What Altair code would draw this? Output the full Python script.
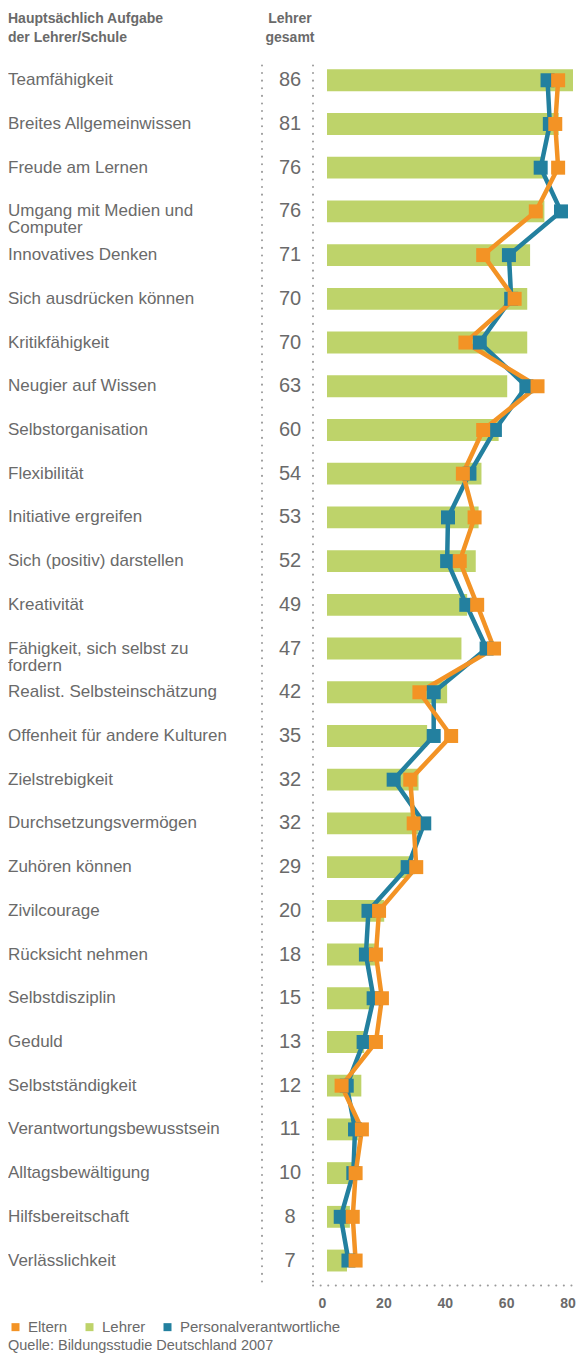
import altair as alt
import pandas as pd

categories = [
    "Teamfähigkeit", "Breites Allgemeinwissen", "Freude am Lernen",
    "Umgang mit Medien und\nComputer", "Innovatives Denken", "Sich ausdrücken können",
    "Kritikfähigkeit", "Neugier auf Wissen", "Selbstorganisation", "Flexibilität",
    "Initiative ergreifen", "Sich (positiv) darstellen", "Kreativität",
    "Fähigkeit, sich selbst zu\nfordern", "Realist. Selbsteinschätzung",
    "Offenheit für andere Kulturen", "Zielstrebigkeit", "Durchsetzungsvermögen",
    "Zuhören können", "Zivilcourage", "Rücksicht nehmen", "Selbstdisziplin", "Geduld",
    "Selbstständigkeit", "Verantwortungsbewusstsein", "Alltagsbewältigung",
    "Hilfsbereitschaft", "Verlässlichkeit",
]
lehrer = [86, 81, 76, 76, 71, 70, 70, 63, 60, 54, 53, 52, 49, 47, 42, 35, 32, 32, 29,
          20, 18, 15, 13, 12, 11, 10, 8, 7]
eltern = [80.8, 79.8, 80.8, 73.0, 54.6, 65.6, 48.4, 73.6, 54.6, 47.5, 51.6, 46.4, 52.5,
          58.4, 32.3, 43.4, 29.1, 30.3, 31.2, 18.2, 17.1, 19.2, 17.1, 5.1, 12.2, 10.0,
          9.0, 10.0]
personal = [77.1, 77.9, 74.7, 81.8, 63.6, 64.4, 53.4, 69.7, 58.7, 49.8, 42.3, 42.0, 48.7,
            55.8, 37.3, 37.3, 23.3, 34.0, 28.2, 14.5, 13.6, 16.3, 12.8, 6.9, 9.8, 9.2,
            4.8, 7.5]
series_names = ["Eltern", "Lehrer", "Personalverantwortliche"]
series_colors = ["#f39325", "#bed36a", "#23809f"]
axis_ticks = [0, 20, 40, 60, 80]
header_left = "Hauptsächlich Aufgabe\nder Lehrer/Schule"
header_mid = "Lehrer\ngesamt"
source = "Quelle: Bildungsstudie Deutschland 2007"

W = 246
H = 1224
GRAY = "#6a6a6a"
DOT = "#9a9a9a"
FONT = "Liberation Sans"

df = pd.DataFrame({
    "cat": categories, "lehrer": lehrer, "eltern": eltern, "personal": personal,
    "serie": ["Lehrer"] * len(categories), "order": list(range(len(categories))),
})
one = pd.DataFrame({"a": [0]})

xscale = alt.Scale(domain=[0, 86], nice=False, zero=True)
yenc = alt.Y("cat:N", sort=categories, axis=None,
             scale=alt.Scale(paddingInner=0.5, paddingOuter=0.25))

base = alt.Chart(df)

bars = base.mark_bar().encode(
    x=alt.X("lehrer:Q", scale=xscale, axis=None),
    y=yenc,
    color=alt.Color("serie:N", scale=alt.Scale(domain=series_names, range=series_colors),
                    legend=alt.Legend(orient="none", legendX=-319, legendY=1261,
                                      direction="horizontal", title=None,
                                      symbolType="square", symbolSize=64,
                                      symbolStrokeWidth=0, labelFontSize=15,
                                      labelFont=FONT, labelColor=GRAY, labelOffset=5,
                                      labelLimit=400, columnPadding=14, padding=0)),
)

def series_line(field, color):
    return base.mark_line(color=color, strokeWidth=4.5).encode(
        x=alt.X(f"{field}:Q", scale=xscale, axis=None), y=yenc, order="order:Q")

def series_points(field, color):
    return base.mark_square(color=color, size=196, filled=True, opacity=1).encode(
        x=alt.X(f"{field}:Q", scale=xscale, axis=None), y=yenc)

labels = base.mark_text(align="left", baseline="middle", lineBreak="\n", fontSize=17,
                        lineHeight=17, font=FONT, color=GRAY).encode(
    x=alt.value(-319), y=yenc, text="cat:N")

numbers = base.mark_text(align="center", baseline="middle", fontSize=20, font=FONT,
                         color=GRAY).encode(
    x=alt.value(-37), y=yenc, text="lehrer:Q")

hdr_left = alt.Chart(pd.DataFrame({"t": [header_left]})).mark_text(
    align="left", baseline="alphabetic", lineBreak="\n", lineHeight=18.4,
    fontSize=14, fontWeight="bold", font=FONT, color=GRAY).encode(
    x=alt.value(-319), y=alt.value(-35), text="t:N")
hdr_mid = alt.Chart(pd.DataFrame({"t": [header_mid]})).mark_text(
    align="center", baseline="alphabetic", lineBreak="\n", lineHeight=18.4,
    fontSize=14, fontWeight="bold", font=FONT, color=GRAY).encode(
    x=alt.value(-37), y=alt.value(-35), text="t:N")

src = alt.Chart(pd.DataFrame({"t": [source]})).mark_text(
    align="left", baseline="middle", fontSize=14.5, font=FONT, color=GRAY).encode(
    x=alt.value(-319), y=alt.value(H + 63.6), text="t:N")

def vdot(xpos):
    return alt.Chart(one).mark_rule(color=DOT, strokeWidth=2, strokeDash=[0.1, 7.5],
                                    strokeCap="round").encode(
        x=alt.value(xpos), y=alt.value(7), y2=alt.value(H + 3))

hdot = alt.Chart(one).mark_rule(color=DOT, strokeWidth=2, strokeDash=[0.1, 7.5],
                                 strokeCap="round").encode(
    x=alt.value(-14), x2=alt.value(W), y=alt.value(H + 3))

axis_layer = alt.Chart(pd.DataFrame({"v": axis_ticks})).mark_point(opacity=0).encode(
    x=alt.X("v:Q", scale=alt.Scale(domain=[0, 80], range=[-5, 240.5], nice=False),
            axis=alt.Axis(values=axis_ticks, orient="bottom", title=None, domain=False,
                          ticks=False, grid=False, labelPadding=14, labelFontSize=14,
                          labelFontWeight="bold", labelFont=FONT, labelColor=GRAY,
                          labelFlush=False)),
    y=alt.value(0),
)

layers = [vdot(-65), vdot(-14), hdot, bars,
          series_line("personal", series_colors[2]),
          series_line("eltern", series_colors[0]),
          series_points("personal", series_colors[2]),
          series_points("eltern", series_colors[0]),
          labels, numbers, hdr_left, hdr_mid, src, axis_layer]

chart = alt.layer(*layers).resolve_scale(x="independent").properties(
    width=W, height=H,
    autosize=alt.AutoSizeParams(type="none"),
    padding={"left": 319, "top": 50.4, "right": 3, "bottom": 74.6},
).configure_view(stroke=None)

chart.save("out.html", embed_options={"renderer": "svg", "actions": False})
